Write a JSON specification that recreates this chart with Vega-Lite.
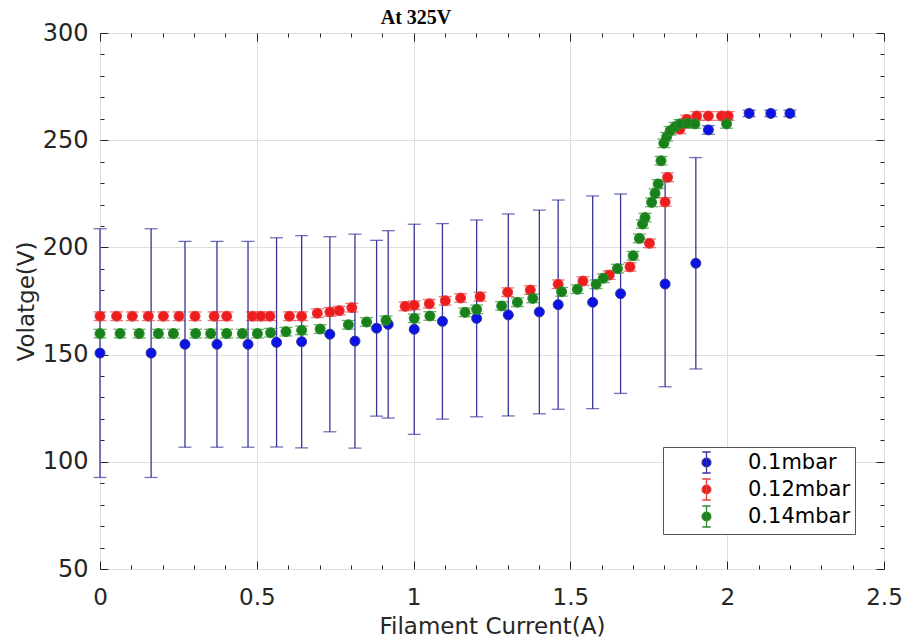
{
  "$schema": "https://vega.github.io/schema/vega-lite/v6.json",
  "width": 784,
  "height": 536,
  "autosize": {"type": "none"},
  "padding": {"left": 100, "top": 33, "right": 22, "bottom": 74},
  "background": "white",
  "config": {
    "view": {"stroke": "#262626", "strokeWidth": 1},
    "font": "DejaVu Sans"
  },
  "title": {
    "text": "At 325V",
    "font": "Liberation Serif",
    "fontWeight": "bold",
    "fontSize": 20,
    "color": "#000000",
    "dx": -76,
    "offset": -7
  },
  "datasets": {
    "runs": [
      {"s": "0.1mbar", "i": 0, "v": 150.7, "e": 58},
      {"s": "0.1mbar", "i": 0.163, "v": 150.7, "e": 58},
      {"s": "0.1mbar", "i": 0.271, "v": 154.8, "e": 48},
      {"s": "0.1mbar", "i": 0.373, "v": 154.8, "e": 48},
      {"s": "0.1mbar", "i": 0.472, "v": 154.8, "e": 48},
      {"s": "0.1mbar", "i": 0.563, "v": 155.7, "e": 48.8},
      {"s": "0.1mbar", "i": 0.643, "v": 156, "e": 49.5},
      {"s": "0.1mbar", "i": 0.733, "v": 159.5, "e": 45.5},
      {"s": "0.1mbar", "i": 0.813, "v": 156.3, "e": 49.9},
      {"s": "0.1mbar", "i": 0.882, "v": 162.3, "e": 41},
      {"s": "0.1mbar", "i": 0.919, "v": 164.1, "e": 43.7},
      {"s": "0.1mbar", "i": 1.002, "v": 161.8, "e": 49},
      {"s": "0.1mbar", "i": 1.092, "v": 165.5, "e": 45.6},
      {"s": "0.1mbar", "i": 1.201, "v": 166.9, "e": 45.9},
      {"s": "0.1mbar", "i": 1.302, "v": 168.5, "e": 47.1},
      {"s": "0.1mbar", "i": 1.401, "v": 169.9, "e": 47.5},
      {"s": "0.1mbar", "i": 1.461, "v": 173.3, "e": 48.8},
      {"s": "0.1mbar", "i": 1.571, "v": 174.4, "e": 49.6},
      {"s": "0.1mbar", "i": 1.66, "v": 178.4, "e": 46.5},
      {"s": "0.1mbar", "i": 1.802, "v": 182.9, "e": 47.9},
      {"s": "0.1mbar", "i": 1.9, "v": 192.6, "e": 49.3},
      {"s": "0.1mbar", "i": 1.94, "v": 254.8, "e": 2},
      {"s": "0.1mbar", "i": 2.07, "v": 262.5, "e": 1.5},
      {"s": "0.1mbar", "i": 2.139, "v": 262.5, "e": 1.5},
      {"s": "0.1mbar", "i": 2.2, "v": 262.5, "e": 1.5},

      {"s": "0.12mbar", "i": 0, "v": 167.9, "e": 2},
      {"s": "0.12mbar", "i": 0.053, "v": 167.9, "e": 2},
      {"s": "0.12mbar", "i": 0.103, "v": 167.9, "e": 2},
      {"s": "0.12mbar", "i": 0.154, "v": 167.9, "e": 2},
      {"s": "0.12mbar", "i": 0.202, "v": 167.9, "e": 2},
      {"s": "0.12mbar", "i": 0.252, "v": 167.9, "e": 2},
      {"s": "0.12mbar", "i": 0.303, "v": 167.9, "e": 2},
      {"s": "0.12mbar", "i": 0.364, "v": 167.9, "e": 2},
      {"s": "0.12mbar", "i": 0.404, "v": 167.9, "e": 2},
      {"s": "0.12mbar", "i": 0.486, "v": 167.9, "e": 2},
      {"s": "0.12mbar", "i": 0.513, "v": 167.9, "e": 2},
      {"s": "0.12mbar", "i": 0.542, "v": 167.9, "e": 2},
      {"s": "0.12mbar", "i": 0.604, "v": 167.9, "e": 2},
      {"s": "0.12mbar", "i": 0.643, "v": 167.9, "e": 2},
      {"s": "0.12mbar", "i": 0.693, "v": 169.3, "e": 2},
      {"s": "0.12mbar", "i": 0.733, "v": 169.9, "e": 2},
      {"s": "0.12mbar", "i": 0.763, "v": 170.5, "e": 2},
      {"s": "0.12mbar", "i": 0.803, "v": 171.9, "e": 2},
      {"s": "0.12mbar", "i": 0.973, "v": 172.5, "e": 2},
      {"s": "0.12mbar", "i": 1.002, "v": 173, "e": 2},
      {"s": "0.12mbar", "i": 1.05, "v": 173.7, "e": 2},
      {"s": "0.12mbar", "i": 1.101, "v": 175.1, "e": 2},
      {"s": "0.12mbar", "i": 1.15, "v": 176.4, "e": 2},
      {"s": "0.12mbar", "i": 1.212, "v": 177, "e": 2},
      {"s": "0.12mbar", "i": 1.3, "v": 179.1, "e": 2},
      {"s": "0.12mbar", "i": 1.372, "v": 180.1, "e": 2},
      {"s": "0.12mbar", "i": 1.461, "v": 182.8, "e": 2},
      {"s": "0.12mbar", "i": 1.54, "v": 184.3, "e": 2},
      {"s": "0.12mbar", "i": 1.624, "v": 187.1, "e": 2},
      {"s": "0.12mbar", "i": 1.69, "v": 190.9, "e": 2},
      {"s": "0.12mbar", "i": 1.752, "v": 201.9, "e": 2},
      {"s": "0.12mbar", "i": 1.802, "v": 221.2, "e": 2},
      {"s": "0.12mbar", "i": 1.81, "v": 232.7, "e": 2},
      {"s": "0.12mbar", "i": 1.849, "v": 255.1, "e": 2},
      {"s": "0.12mbar", "i": 1.871, "v": 259.7, "e": 2},
      {"s": "0.12mbar", "i": 1.903, "v": 261.3, "e": 2},
      {"s": "0.12mbar", "i": 1.94, "v": 261.3, "e": 2},
      {"s": "0.12mbar", "i": 1.982, "v": 261.3, "e": 2},
      {"s": "0.12mbar", "i": 2.003, "v": 261.3, "e": 2},

      {"s": "0.14mbar", "i": 0, "v": 159.8, "e": 2},
      {"s": "0.14mbar", "i": 0.064, "v": 159.8, "e": 2},
      {"s": "0.14mbar", "i": 0.125, "v": 159.8, "e": 2},
      {"s": "0.14mbar", "i": 0.186, "v": 159.8, "e": 2},
      {"s": "0.14mbar", "i": 0.234, "v": 159.8, "e": 2},
      {"s": "0.14mbar", "i": 0.305, "v": 159.8, "e": 2},
      {"s": "0.14mbar", "i": 0.353, "v": 159.8, "e": 2},
      {"s": "0.14mbar", "i": 0.404, "v": 159.8, "e": 2},
      {"s": "0.14mbar", "i": 0.454, "v": 159.8, "e": 2},
      {"s": "0.14mbar", "i": 0.502, "v": 159.8, "e": 2},
      {"s": "0.14mbar", "i": 0.544, "v": 160.2, "e": 2},
      {"s": "0.14mbar", "i": 0.593, "v": 160.7, "e": 2},
      {"s": "0.14mbar", "i": 0.643, "v": 161.3, "e": 2},
      {"s": "0.14mbar", "i": 0.702, "v": 161.9, "e": 2},
      {"s": "0.14mbar", "i": 0.792, "v": 163.9, "e": 2},
      {"s": "0.14mbar", "i": 0.85, "v": 165.2, "e": 2},
      {"s": "0.14mbar", "i": 0.912, "v": 166, "e": 2},
      {"s": "0.14mbar", "i": 1.002, "v": 166.9, "e": 2},
      {"s": "0.14mbar", "i": 1.052, "v": 168, "e": 2},
      {"s": "0.14mbar", "i": 1.164, "v": 169.7, "e": 2},
      {"s": "0.14mbar", "i": 1.201, "v": 171.1, "e": 2},
      {"s": "0.14mbar", "i": 1.281, "v": 172.7, "e": 2},
      {"s": "0.14mbar", "i": 1.331, "v": 174.4, "e": 2},
      {"s": "0.14mbar", "i": 1.38, "v": 176.2, "e": 2},
      {"s": "0.14mbar", "i": 1.472, "v": 179.3, "e": 2},
      {"s": "0.14mbar", "i": 1.522, "v": 180.5, "e": 2},
      {"s": "0.14mbar", "i": 1.582, "v": 182.8, "e": 2},
      {"s": "0.14mbar", "i": 1.605, "v": 185.6, "e": 2},
      {"s": "0.14mbar", "i": 1.65, "v": 190.1, "e": 2},
      {"s": "0.14mbar", "i": 1.7, "v": 196.1, "e": 2},
      {"s": "0.14mbar", "i": 1.72, "v": 204.2, "e": 2},
      {"s": "0.14mbar", "i": 1.73, "v": 210.9, "e": 2},
      {"s": "0.14mbar", "i": 1.738, "v": 213.9, "e": 2},
      {"s": "0.14mbar", "i": 1.759, "v": 221, "e": 2},
      {"s": "0.14mbar", "i": 1.77, "v": 225.2, "e": 2},
      {"s": "0.14mbar", "i": 1.78, "v": 229.6, "e": 2},
      {"s": "0.14mbar", "i": 1.789, "v": 240.4, "e": 2},
      {"s": "0.14mbar", "i": 1.798, "v": 248.6, "e": 2},
      {"s": "0.14mbar", "i": 1.807, "v": 251.6, "e": 2},
      {"s": "0.14mbar", "i": 1.818, "v": 254.4, "e": 2},
      {"s": "0.14mbar", "i": 1.834, "v": 256.3, "e": 2},
      {"s": "0.14mbar", "i": 1.849, "v": 257.6, "e": 2},
      {"s": "0.14mbar", "i": 1.873, "v": 257.9, "e": 2},
      {"s": "0.14mbar", "i": 1.897, "v": 257.6, "e": 2},
      {"s": "0.14mbar", "i": 1.998, "v": 257.6, "e": 2}
    ]
  },
  "data": {"name": "runs"},
  "layer": [
    {
      "mark": {"type": "errorbar", "ticks": {"size": 13, "thickness": 1.3}, "thickness": 1.3},
      "encoding": {
        "x": {
          "field": "i",
          "type": "quantitative",
          "scale": {"domain": [0, 2.5], "nice": false, "zero": false},
          "axis": {
            "orient": "bottom",
            "values": [0, 0.1, 0.2, 0.3, 0.4, 0.5, 0.6, 0.7, 0.8, 0.9, 1, 1.1, 1.2, 1.3, 1.4, 1.5, 1.6, 1.7, 1.8, 1.9, 2, 2.1, 2.2, 2.3, 2.4, 2.5],
            "labelExpr": "abs(datum.value*2-round(datum.value*2))<0.001 ? format(datum.value, '~g') : ''",
            "labelOverlap": false,
            "labelFlush": false,
            "labelFontSize": 23,
            "labelColor": "#262626",
            "labelPadding": 25,
            "domain": false,
            "grid": true,
            "gridColor": {"condition": {"test": "abs(datum.value*2-round(datum.value*2))<0.001", "value": "#dedede"}, "value": "transparent"},
            "tickColor": "#262626",
            "tickSize": {"condition": {"test": "abs(datum.value*2-round(datum.value*2))<0.001", "value": -8}, "value": -4},
            "title": "Filament Current(A)",
            "titleFontSize": 23,
            "titleFontWeight": "normal",
            "titleColor": "#262626",
            "titlePadding": 2
          }
        },
        "y": {
          "field": "v",
          "type": "quantitative",
          "scale": {"domain": [50, 300], "nice": false, "zero": false},
          "axis": {
            "orient": "left",
            "values": [50, 60, 70, 80, 90, 100, 110, 120, 130, 140, 150, 160, 170, 180, 190, 200, 210, 220, 230, 240, 250, 260, 270, 280, 290, 300],
            "labelExpr": "datum.value % 50 === 0 ? datum.label : ''",
            "labelOverlap": false,
            "labelFlush": false,
            "labelFontSize": 24,
            "labelColor": "#262626",
            "labelPadding": 20,
            "domain": false,
            "grid": true,
            "gridColor": {"condition": {"test": "datum.value % 50 === 0", "value": "#dedede"}, "value": "transparent"},
            "tickColor": "#262626",
            "tickSize": {"condition": {"test": "datum.value % 50 === 0", "value": -8}, "value": -4},
            "title": "Volatge(V)",
            "titleFontSize": 23,
            "titleFontWeight": "normal",
            "titleColor": "#262626",
            "titlePadding": 4
          }
        },
        "yError": {"field": "e"},
        "color": {
          "field": "s",
          "type": "nominal",
          "scale": {"domain": ["0.14mbar", "0.12mbar", "0.1mbar"], "range": ["#2e8b2e", "#e04040", "#35359a"]},
          "legend": null
        }
      }
    },
    {
      "mark": {"type": "point", "filled": true, "size": 100, "opacity": 1, "strokeWidth": 1},
      "encoding": {
        "x": {
          "field": "i",
          "type": "quantitative",
          "axis": {
            "orient": "top",
            "values": [0, 0.1, 0.2, 0.3, 0.4, 0.5, 0.6, 0.7, 0.8, 0.9, 1, 1.1, 1.2, 1.3, 1.4, 1.5, 1.6, 1.7, 1.8, 1.9, 2, 2.1, 2.2, 2.3, 2.4, 2.5],
            "labels": false,
            "domain": false,
            "grid": false,
            "title": null,
            "tickColor": "#262626",
            "tickSize": {"condition": {"test": "abs(datum.value*2-round(datum.value*2))<0.001", "value": -8}, "value": -4}
          }
        },
        "y": {
          "field": "v",
          "type": "quantitative",
          "axis": {
            "orient": "right",
            "values": [50, 60, 70, 80, 90, 100, 110, 120, 130, 140, 150, 160, 170, 180, 190, 200, 210, 220, 230, 240, 250, 260, 270, 280, 290, 300],
            "labels": false,
            "domain": false,
            "grid": false,
            "title": null,
            "tickColor": "#262626",
            "tickSize": {"condition": {"test": "datum.value % 50 === 0", "value": -8}, "value": -4}
          }
        },
        "fill": {
          "field": "s",
          "type": "nominal",
          "scale": {"domain": ["0.1mbar", "0.12mbar", "0.14mbar"], "range": ["#0b12e6", "#ee1c1c", "#17821a"]},
          "legend": {
            "orient": "none",
            "legendX": 563,
            "legendY": 414,
            "title": null,
            "symbolType": "M -0.42 0 A 0.42 0.42 0 1 1 0.42 0 A 0.42 0.42 0 1 1 -0.42 0 Z M 0 -1 L 0 1 M -0.4 -1 L 0.4 -1 M -0.4 1 L 0.4 1",
            "symbolSize": 441,
            "symbolStrokeWidth": 1.3,
            "symbolOffset": 28,
            "labelOffset": 30,
            "labelFontSize": 21,
            "labelColor": "#000000",
            "labelExpr": "datum.label + ' '",
            "padding": 4,
            "rowPadding": 0,
            "strokeColor": "#555555",
            "fillColor": "#ffffff"
          }
        },
        "stroke": {
          "field": "s",
          "type": "nominal",
          "scale": {"domain": ["0.1mbar", "0.12mbar", "0.14mbar"], "range": ["#35359a", "#e04040", "#2e8b2e"]},
          "legend": {
            "orient": "none",
            "legendX": 563,
            "legendY": 414,
            "title": null,
            "symbolType": "M -0.42 0 A 0.42 0.42 0 1 1 0.42 0 A 0.42 0.42 0 1 1 -0.42 0 Z M 0 -1 L 0 1 M -0.4 -1 L 0.4 -1 M -0.4 1 L 0.4 1",
            "symbolSize": 441,
            "symbolStrokeWidth": 1.3,
            "symbolOffset": 28,
            "labelOffset": 30,
            "labelFontSize": 21,
            "labelColor": "#000000",
            "labelExpr": "datum.label + ' '",
            "padding": 4,
            "rowPadding": 0,
            "strokeColor": "#555555",
            "fillColor": "#ffffff"
          }
        }
      }
    }
  ],
  "resolve": {"axis": {"x": "independent", "y": "independent"}}
}
